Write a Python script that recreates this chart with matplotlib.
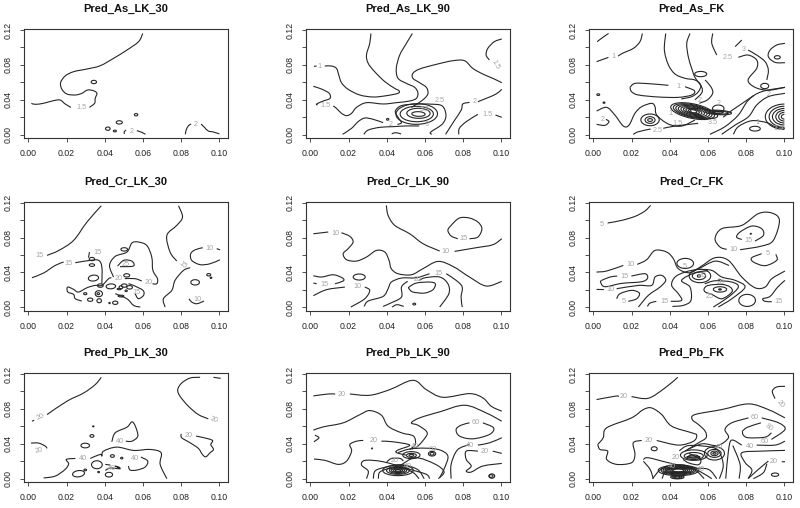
import matplotlib
matplotlib.use("Agg")
import matplotlib.pyplot as plt
import numpy as np
from matplotlib.patches import Arc, PathPatch
from matplotlib.path import Path

plt.rcParams['font.family'] = ['Liberation Sans', 'DejaVu Sans']

# all contour values below are (x, y) in thousandths of the axis units
as_lk30_lines = [
    [(59.9,116),(57.7,106.6),(51.6,97),(44.6,87.5),(37.6,79),(30.7,75.3),(23.7,72.2),(19.3,67.3),(16.9,59.6),(17.6,52),(20.2,46.6),(24.6,45.5),(28,47.4),(31,51.2),(34.1,50.4),(35.9,47.4),(35,41.6),(34.7,36),(32,31.3)],
    [(22.3,31.3),(19.3,35.2),(16.7,39.7),(13.2,39),(8,36),(3.7,34.8),(1.6,35.9)],
    [(50.3,0.8),(50.2,3.4),(51.2,5.3)],
    [(56.8,4.6),(59.4,2.7),(61.3,0.4)],
    [(82.2,0.4),(82.6,5.3),(83.8,10.3),(85.2,12.2)],
    [(90.4,12.2),(92.2,8.4),(94.2,4.2),(96.9,3.1),(100,0.8)],
]
as_lk30_rings = [(34.3,60.4,2.8,3.8,0),(56.4,22.9,1.8,2.7,0),(47.6,14.1,3.2,3.8,0),(41.6,6.9,2.4,3.8,0),(45.3,4.2,1.6,2,0)]
as_lk30_labels = [(27.7,31.3,"1.5",0),(54,4.2,"2",0),(87.8,11.5,"2",0)]

as_lk90_lines = [
    [(31.7,116),(31.1,104.7),(29.4,91.3),(30.3,81.8),(33.7,72.2),(39,60.8),(44.2,53.1),(46.4,50.4),(45.9,47.4),(39.8,44.7),(32.9,43.2),(25.9,45.5),(19.8,52),(16.3,59.6),(14.9,68.4),(13.7,76),(11.1,78.7),(7.6,78.7)],
    [(3.3,78.7),(1.9,78.3)],
    [(53.4,116),(50.3,104.7),(46.8,91.3),(45,76),(45.9,64.6),(50.3,58.8),(54.6,54.3),(56.3,48.1),(55.5,41.6),(52,38.6),(45,36.7),(38.1,35.2),(29.4,36.7),(24.2,31.3),(21.6,24.5),(19,21.8),(16.3,24.5),(13.7,30.2),(12,32.9)],
    [(3.8,34),(3.3,35.2),(6.8,38.6),(10.3,41.6),(9.9,47.4),(5.9,52.3),(1.6,55.4)],
    [(100.2,59.6),(95.5,64.6),(90.3,69.5),(85,76),(80.7,84.8),(74.6,84.8),(65.9,80.6),(57.2,75.3),(53.7,70.3),(53.7,64.6),(57.2,59.6),(60.7,54.3),(61.6,47.4),(59.8,41.6),(56.3,35.9),(52.9,31.3)],
    [(100.2,109.7),(96.3,106.6),(92.9,99),(92,91.3),(93.7,85.6)],
    [(100.2,52),(97.2,46.6),(92,41.6),(87.7,37.8)],
    [(83.3,37),(79.8,35.2),(79,28.3),(75.5,16.5),(70.8,0.4)],
    [(77.7,0.4),(78,7.3),(81.6,14.9),(87.7,23.3)],
    [(96.9,22.5),(100.2,19.9)],
    [(16.9,0.4),(21.6,7.3),(25,14.9),(28.5,19.1),(32.9,17.6),(38.1,13.8)],
    [(45.6,11.8),(47.7,13.8),(45.9,20),(44.5,27),(47.7,33.3),(55,35),(63,35),(69,33),(71,22),(69,12),(63,3),(63.6,0.4)],
    [(28,0.4),(30.3,5.3),(36.3,8.4),(43.3,9.2),(50,10),(57,10)],
    [(42.6,1),(44.7,2.3),(47.5,0.8)],
]
as_lk90_rings = [(56.6,23.7,7,5.3,-10),(56.6,24.5,12.2,11.5,-10),(55.7,23.7,17.4,17.6,-8),(55.7,23.7,21.7,23.7,-8),(40.5,17.6,1.2,2,0)]
as_lk90_labels = [(5,78.3,"1",0),(96.9,79.9,"1.5",-60),(7.7,32.9,"1.5",0),(85.9,37.8,"2",0),(92.9,23.3,"1.5",0),(42.1,11.8,"2",0),(67.7,39.7,"2.5",0),(60,29,"3.5",0),(60.7,11.8,"3",0)]

as_fk_lines = [
    [(2,106.6),(5,111.6),(8,116)],
    [(1.7,83.7),(7.9,88.6)],
    [(13,90),(15.2,93.2),(21,99),(24.4,106.6),(25.7,116)],
    [(37.9,116),(37.2,97),(39.3,80),(42.8,69.5),(48,64.6),(53.2,62.7),(56.2,57),(55,49.3),(51.5,43.6),(46,41)],
    [(19.2,54.3),(21.8,58.8),(28.8,58.5),(39.3,56.6)],
    [(48,55),(52.9,50.4),(51.5,45.5),(44.5,42.8),(34,43.2),(23.6,45.5),(20,49.3),(19.2,54.3)],
    [(50.6,116),(48.9,104.7),(49.7,89.4),(51.5,76),(53.2,65.7),(56.7,54.6),(56.7,47.7),(53.2,40)],
    [(58.5,62.7),(61.5,55),(62.5,47.7),(59.8,40),(55.5,36)],
    [(62.5,116),(62,104.7),(64.6,91.3)],
    [(75.9,88.7),(81,91.3),(85.5,85.6),(85.5,76),(81,62.7),(84.6,54.3),(91.6,51),(100.3,54.3)],
    [(100.3,104.7),(96,102.8),(92.5,97),(91.6,89.4),(95.1,82.9),(100.3,82.5)],
    [(74.2,100.9),(77.7,108.5)],
    [(81,97),(85.5,91.3),(89.9,83.7),(91.6,74),(90.8,62.7)],
    [(1.7,27.1),(7,31.3),(11.3,22.5),(15.7,9.9),(18.7,11),(21.8,24.5),(25.3,32.1),(30.5,35.9),(32.3,32.1),(33.2,22.5),(39.3,12.2),(46.2,9.9),(53.2,16.8)],
    [(6.6,17.6),(8.2,14.9),(6.1,10.7),(1.7,11.8)],
    [(20.9,0.4),(23.6,3.4),(30,6.5)],
    [(36.6,7.3),(42.8,9.9),(54.9,13)],
    [(61,0.4),(68.9,9.2),(75.9,22.5),(81.2,39.7),(88.1,49.3),(100.3,54.3)],
    [(67.2,0.4),(74.2,11),(81.2,20.6),(85.5,34),(91.6,43.6),(100.3,47.4)],
    [(73.3,0.4),(75.9,9.2),(82.9,16),(90.8,13.8),(95.1,9.2),(100.3,7.3)],
    [(68,20),(72,27),(76,33),(82,42),(84,45)],
]
as_fk_rings = [
    (52,27,26,15,-35),(52,27,23,13,-35),(52,27,20,11.5,-35),(52,27,17,10,-35),(52,27,14,8,-35),(52,27,11,6,-35),(52,27,8,4.5,-35),(52,27,5,3,-35),
    (58,24.5,16,9,-35),(65.4,25.5,14,5,-8),(65.4,25.5,10,3.5,-8),(65,25.5,6,2.2,0),(65.4,30,6,8,0),
    (29.7,16.8,5.2,7.6,0),(29.7,16.8,2.5,3.2,0),(29.7,17,9.6,13.4,0),
    (89.7,55.8,4.2,6.1,0),(84.6,6.9,5.6,5.4,0),(96.3,88.7,3.1,3.8,0),(56.2,69.5,6.3,6,0),(2.6,45.9,1.5,2,0),(5.6,36.7,1,1.5,0),
]
as_fk_arcs = [(100,20.6,20,29),(100,20.6,16,24),(100,20.6,12.5,19),(100,20.6,9,14.5),(100,20.6,6,10),(100,20.6,3.2,5.5)]
as_fk_labels = [(10.8,89.4,"1",0),(44.5,55.8,"1",0),(78.5,97.8,"3",0),(70.3,88.7,"2.5",0),(92,45.5,"2",0),(4.9,17.6,"2",0),(33.7,5.3,"2.5",0),(44.2,13,"1.5",0),(40.5,24.5,"1",0),(55.8,39,"2",0),(65.4,35.2,"2",0),(62.5,13.8,"3.5",0),(85.7,14.1,"1",0),(96.9,7.3,"1.5",0)]

cr_lk30_lines = [
    [(1.9,34),(8,39.4),(14.1,48.1),(18.5,52)],
    [(24.6,51.2),(32.4,53.9),(36.8,53.9),(38.5,46.2),(38.5,27.1)],
    [(9.8,59.6),(16,65.3),(23.7,76.8),(30.7,97.8),(38.2,116.5)],
    [(31.5,57),(32,63.4)],
    [(44.6,34.8),(42.5,48.1),(45.5,58.5),(51.6,63.4),(54.2,73.8),(57.6,74.9),(62,71),(64.6,57.7),(65.2,42.4),(67.6,32.9),(67.2,27.1),(65,27.1)],
    [(59.4,30.2),(55.9,32.9),(50.5,33)],
    [(46.7,47.4),(50,54),(54.2,53),(55,47.4),(48,46.7)],
    [(20.2,22.5),(21.1,23.3),(23.7,20.6),(26.3,17.6),(30.7,22.5),(35,25.2),(38.5,25.2),(42,32.9),(43.5,34)],
    [(20.2,22.5),(20.7,17.6),(23.7,14.9),(24.6,9.9),(28,7.3)],
    [(52.4,27.1),(55,25.2),(60,19.5),(60.3,13.8),(57.6,10),(55.9,15.7)],
    [(45.5,15.7),(51.6,9.9),(55.1,2.3),(58.6,0.4)],
    [(71.6,0.4),(70.7,9.9),(75.1,19.5),(76.8,31),(81.2,42.4),(84.7,45.5)],
    [(77.7,53.1),(74.2,63.4),(72.5,82.5),(77.7,94),(80.7,103.6),(78.6,116.5)],
    [(100.3,54.6),(95.1,50),(89.9,49),(85.5,53.9),(85,61.5),(87.3,66),(91.3,68.4)],
    [(98.6,67.3),(100.3,66)],
    [(84.1,9.9),(85.5,6.1),(88.2,4.2),(92,7.3)],
]
cr_lk30_rings = [
    (33.3,55.4,2.8,3.8,0),(33.3,48.5,2.8,3,0),(50.2,66.5,3.5,3.8,0),(51.5,36.7,3.1,3.8,0),(87.3,28.7,4.5,6.1,0),(94.4,37.4,2.1,2.7,0),(95.6,34,0.9,1.5,0),
    (29.8,15.7,1.7,2.3,0),(36.9,15.7,3.8,6.9,0),(36.6,15.7,1.4,2.3,0),(32.4,8.8,2.8,3.8,0),(37.1,7.6,2.4,4.6,0),(45.5,5.3,2.8,3.8,0),(42.5,5,0.7,1.5,0),
    (34.1,33.6,5.2,6.9,-15),(43.2,24.1,4.9,5.7,-15),(37.7,25,3,4,0),(47.5,21,2,1.6,0),(48.5,13,3,2,0),(50.2,25,3,3.8,0),(48.5,23,2,3.5,0),(53,23,3,4,0),(51.2,19,1.2,1.8,0),
]
cr_lk30_labels = [(5.9,59.2,"15",0),(21,50.8,"15",0),(36.2,63.4,"15",0),(47.2,32.9,"20",0),(50.7,49.7,"25",0),(63,28,"20",0),(56.4,17,"15",0),(80.8,48.5,"15",-35),(94.8,67.7,"10",0),(88.5,8.8,"10",0)]

cr_lk90_lines = [
    [(1.6,84.4),(9.4,86.4)],
    [(16.3,85.6),(20.7,81.4),(22.4,74.9),(19.8,67.3),(17.2,61.5),(19,54.6),(24.2,53.1),(29.4,57.7),(34.6,65.3),(39,63.4),(41.2,53.9),(42.4,44.3),(45.9,38.6),(52.9,37.4),(58.9,44.3),(66.8,52.7),(74.6,47),(83.3,34.8),(92,24.5),(100.2,29.8)],
    [(39.8,116.9),(40.7,105.5),(44.2,94),(52,84.4),(59,73),(67.7,64.6)],
    [(75.5,64.2),(86.8,68.4),(95.5,71.8),(100.2,78.7)],
    [(83.3,78.7),(87.7,80.6),(89.8,90.2),(87.7,97.8),(83.3,102.4),(78,102.4),(73.7,94),(72,88.3),(73.7,81.8),(77.2,78.7)],
    [(1.6,36.3),(5.9,34.8),(12,37.4),(16.9,33.6),(17.2,30.2),(12.9,27.1)],
    [(3.3,27.1),(1.6,27.9)],
    [(1.6,13.4),(8.5,20.3),(18.1,23.3)],
    [(28.5,23.3),(31.1,19.5),(28.5,9.9),(21.2,0.4)],
    [(28.2,1.1),(30.3,7.3),(38.1,12.6),(40.7,21.4),(42.4,29),(47.7,33.6),(55.5,34),(62.4,38.6)],
    [(71.1,38.6),(76.3,31),(79.5,23.3),(78.9,11.8),(79.5,0.4)],
    [(38.1,1.1),(42.4,5.3),(47.7,11.8),(47.7,23.3),(50.3,29),(51,29.5)],
    [(57,31),(60.2,34),(67.7,34.8),(72,27.1),(72.5,15.7),(67.7,0.4)],
    [(51.7,23.3),(55.5,27.9),(62.4,29),(65.4,27.1),(64.2,20.3),(59.8,16.4),(53.7,17.6),(51.7,21.4),(51.7,23.3)],
    [(42.8,0.4),(45.4,3.1),(48.9,1.1)],
]
cr_lk90_rings = [(25.6,34.8,6.3,6.9,0),(54.4,3.8,1.5,2,0)]
cr_lk90_labels = [(13.2,85.2,"10",0),(24.5,23.7,"10",0),(70.8,64.2,"10",0),(80.3,78.7,"15",0),(7.3,26.4,"15",0),(67.1,39.4,"15",0),(56,32,"20",0)]

cr_fk_lines = [
    [(7.5,96.7),(14.8,99.7),(21.8,104.3),(27,110.4),(30,116.9)],
    [(1.7,40.5),(7,41.7),(15.7,48.1)],
    [(23,49.3),(27.9,54.6),(32.3,65.3),(38.4,63.4),(41.9,55.8),(44.5,44.3),(50.6,39.7),(56.7,47.4),(63.7,56.9),(70.7,53.9),(77.7,34.8),(84.6,22.5),(89.9,23.3),(93.4,32.9),(100.3,41.7)],
    [(76.8,66.1),(88.1,70.3),(94.2,76.8),(97.4,99.7),(93.4,108.2),(86.4,107.5),(77.7,94),(67.2,90.2),(63.7,78.7),(66.3,69.2),(69.8,66.5)],
    [(84.6,76),(89,82.5),(88.1,90.2),(82.9,93.2),(76.8,86.4),(75,80.6),(77.7,77.8)],
    [(88.1,61.5),(82.9,56.9),(83.8,52),(89.9,47.8),(96,54),(95.5,60.8)],
    [(4.4,31),(8.7,34.8),(12.5,35.9)],
    [(19.9,35.9),(27,38.6),(28.4,33.6),(25.3,29.4),(14.8,27.5),(6.1,23.7),(3.8,29),(4.4,31)],
    [(1.7,20.6),(5.5,20.4)],
    [(12.2,21.4),(23.6,25.2),(30.5,25.2),(32.3,34.8),(35.8,36.7),(37.9,31),(34.9,23.3),(28.8,13.8),(23.6,0.4)],
    [(12.2,9.9),(14,15.7),(20,19.5),(24.1,16.4),(22.7,9.9),(18.3,6.9)],
    [(28.3,1.1),(29.7,5),(33,6.9)],
    [(40.5,6.9),(46.2,8),(44.5,15.7),(41,25.2),(42.8,34.8),(48,40.5),(54.9,44.3),(63.7,53),(71,48)],
    [(41.4,1.1),(47.1,2.3),(51.1,8),(50.6,23.3),(46.2,31),(53.2,39.7),(60,42)],
    [(62.8,0.4),(70.7,11.8),(75.9,23.3),(72.5,29),(63.7,30.5),(58.3,27)],
    [(65.4,0.4),(72.5,9.9),(79.4,23.3),(74.2,31),(67.2,34.8),(62,42.4),(54.9,43.6)],
    [(58,21.4),(60.2,25.2),(67.2,26.4),(71.6,23.3),(72.5,17.6),(67.2,9.9),(62,14.9),(58.6,17.6),(58,21.4)],
    [(100.3,31),(96.5,23.3),(92.5,12.6),(88.7,9.9),(89.9,6.9),(93.4,6.5)],
]
cr_fk_rings = [(48.1,50.4,8.7,11.5,0),(55.3,36,7,8.4,0),(55.3,36,1.7,2.7,0),(55.8,36,11.3,15.3,0),(66.3,20.6,1.4,1.5,0),(66.3,20.6,7,6.1,0),(80.5,8,8.7,13.8,0),(82.4,84.4,0.6,1,0),(66,31.7,1,1,0)]
cr_fk_labels = [(4.4,95.2,"5",0),(19.5,48.9,"10",0),(73.3,66.1,"10",0),(81.2,76.4,"15",0),(91.1,61.5,"5",0),(16.1,35.9,"15",0),(9.1,20.2,"10",0),(15.9,7.3,"5",0),(37,6.9,"15",0),(48,47,"5",0),(57.5,37,"20",0),(66.5,28,"20",0),(61,12,"25",0),(96.9,7,"15",0)]

pb_lk30_lines = [
    [(1.9,65.9),(3.1,67)],
    [(9.8,73.5),(20.2,88.8),(29,98.3),(35,107.8),(38.2,116.2)],
    [(89.9,116.2),(84.7,115.4),(80.3,109.7),(78.2,102.1),(79.4,94.5),(83.8,83),(89,73.5),(94.2,68.6)],
    [(96.9,116.2),(100.7,115)],
    [(1.4,40.8),(5.4,40.8),(8.9,37.3),(9.8,34.7)],
    [(80,51.4),(80.3,46.9),(84.7,41.1),(89,34.7),(91.1,27.8),(92.9,25.1),(95.1,29.7),(96.9,33.5),(95.5,39.2),(96.4,43.8),(92,46.9),(87.8,48.8)],
    [(43.7,42.3),(45.5,52.6),(51.6,59),(54.2,65.1),(56,60.2),(57.3,48.8),(54.2,43),(51,43)],
    [(8,0.8),(14.1,3),(19.3,10.7),(21.1,17.1),(19.9,22.1),(24.6,23.2)],
    [(32.4,23.2),(37.6,27.8),(38.5,25.9),(39.4,31.6),(46.3,36.2),(55.1,32.4),(63.8,33.5),(69.5,29.7),(69,16.4),(72.5,0)],
    [(58.9,24.8),(62.5,20.2),(61.1,13.3),(56.8,9.9),(53.3,9.9),(52.4,14.5)],
    [(40.3,16.4),(42.9,15.6)],
    [(40.3,9.5),(42.9,12.2),(48.1,11.4),(45.5,14.5),(48.1,12.6)],
]
pb_lk30_rings = [(34.0,60,0.7,1.1,0),(33.3,49,2.1,3,0),(29.8,38,4.5,5.3,0),(35.9,16,5.6,9.1,0),(26.3,5.7,5.9,7.6,-25),(29.8,10,1.4,1.9,0),(36.8,7.6,0.9,1.5,0),(42.2,4.6,3.8,5.3,0),(44,26,2.1,3,0),(48.9,23.6,1.2,1.9,0)]
pb_lk30_labels = [(6.3,70.5,"20",25),(96.9,67,"20",-20),(5.7,32.8,"20",15),(84.1,49.9,"20",0),(48.1,43,"40",0),(28.4,23.2,"40",0),(55.6,23.6,"40",0),(44,12,"40",0)]

pb_lk90_lines = [
    [(1.6,94.9),(9.4,97.1),(13,97)],
    [(20.7,97.1),(31.1,95.6),(41.6,102.1),(53.7,112.8),(60.7,102.1),(69.4,93.3),(83.3,97.5),(90.3,92.6),(94.7,83),(100.2,77.3)],
    [(1.6,55.6),(6.8,59.4),(17.2,64),(26,73.5),(31.1,78.1),(37.2,72.8),(40.7,60.2),(47.7,52.6),(54,48.8),(54.9,39.2),(52,33.5)],
    [(100.2,65.9),(92,75.4),(80.7,84.2),(67.7,76.6),(57.2,69.7),(52.9,64),(56.3,61.3),(60.7,54.5),(60.7,48.8),(56.3,37.3),(53,34)],
    [(90.3,64),(95.9,58.3),(93.8,50.7),(85,45.7),(78.1,48.8),(76.3,56.4),(78.9,61.3),(83.3,64)],
    [(1.9,42.3),(4.5,46.9),(2.4,49.9)],
    [(1.9,22.5),(7.7,21),(14.6,16.4),(19,20.2),(21.6,31.6),(20.7,39.2),(24.2,43),(27.7,43.8)],
    [(37.2,43),(43.3,42.3),(52,38.5),(46,33),(45,30),(50,27)],
    [(67.7,1.1),(70.3,12.6),(72,25.9),(67.7,33),(60,35),(52,34),(46,30)],
    [(73.7,0),(73.7,16.4),(77,33),(83.3,39.2)],
    [(87.7,38.5),(93.8,41.1),(100.2,46.9)],
    [(87.7,31.6),(81.6,31.6),(81.6,22.1),(84.2,14.5),(81.6,8.8),(84.2,7.6),(90.3,14.5),(100.2,17.5)],
    [(95.5,31.6),(100.2,29)],
    [(29.4,0),(30.3,8.8),(26.8,15.6),(28.7,21),(38.1,19.4),(52,10.7),(60.7,5),(62.4,0)],
    [(33,0),(33.9,8.8),(39,13),(47.5,16),(56,10.7),(59.6,0)],
    [(35.6,0),(36.4,7.6),(41.6,11.8),(47.8,12.6),(53.9,6.9),(56.9,0)],
    [(40,19.4),(42.6,23.2),(47,23.2),(48.7,20.2)],
    [(47,15),(55,24),(65,17),(70,8),(67,0)],
]
pb_lk90_rings = [(52.9,26.7,5.2,4.6,0),(52.9,26.7,2.4,2.3,0),(52.9,27,9,8,0),(63.7,28.6,3.8,5.3,0),(63.7,28.6,2.1,3,0),(94.6,3,2.1,3,0),(95,3,3,5,0),(32.3,34.7,0.5,1,0),
    (45.9,9.5,16,12,0),(45.9,9.5,12,9,0),(45.9,9.5,9,7,0),(45.9,9.5,7,5,0),(45.9,9.5,5,3.5,0),(45.9,9.5,3,2,0)]
pb_lk90_labels = [(16.3,96.8,"20",0),(33,44.2,"20",0),(86.8,64,"60",0),(83.3,38.5,"40",0),(91.5,31.6,"20",0),(44,20.9,"20",0),(50.9,14.5,"40",0),(64.2,33.1,"60",0),(54.5,36.5,"40",0)]

pb_fk_lines = [
    [(1.7,90.7),(11.3,94.5),(13.5,94.5)],
    [(20,94.1),(28.8,92.2),(37.5,104),(44.2,116.2)],
    [(100.3,105.9),(95.9,105.1),(93.7,100.2),(95.1,91.8)],
    [(2.3,39.2),(5.2,46.9),(7,58.3),(20,69.7),(26.2,79.2),(30.5,81.1),(35.8,73.5),(41,60.2),(51.5,52.6),(54.1,49.9),(52.4,42.9),(44.5,38.5),(33.2,43.8)],
    [(25.3,43.8),(20.9,41.1),(21.8,27.8),(20,18.3),(12.2,16.4),(7,22.1),(7.5,31.6),(3.5,33.5),(2.3,39.2)],
    [(100.3,69.7),(91.6,79.2),(81.2,85.7),(67.2,79.2),(53.2,73.5),(51.8,67.8),(55,62.1),(58.5,54.5),(59,46.9),(55,41.1),(48,31.6)],
    [(81.2,69.7),(72.4,64),(68.9,56.4),(70.7,46.9),(65,38),(57,40),(49,33)],
    [(88.1,69.7),(97,64),(100.3,56.4),(93.2,45)],
    [(78,54.5),(80.7,59),(87.7,64)],
    [(93.2,52.6),(89.9,47.6),(81.2,46.9),(78.5,50),(78,54.5)],
    [(100.3,43),(95.1,38.5),(85.5,38.5)],
    [(77.7,38.5),(72.4,44.2),(70.7,31.6),(69.3,0)],
    [(100.3,32.4),(88.1,31.6),(77.7,29.7),(79.5,18.3),(83,10),(81,0)],
    [(76.3,0),(76.8,16.4),(73,38)],
    [(81.2,0.4),(86.4,10.7),(91.6,20.2)],
    [(98.6,19.4),(100.3,19.4)],
    [(83.8,0),(89,6.9),(90.8,17.1)],
    [(26.2,22),(28.8,24),(39.3,18.3),(51.5,12.6),(60.2,10.7),(64.6,0)],
    [(26.2,20),(29.7,10.7),(31.4,0)],
    [(31,0),(34.9,10),(40,15),(48,15.5),(56,8),(62,0)],
    [(36,0),(38,9),(44,14),(53,10),(58,0)],
    [(47,22),(50,18),(55,16),(56,22),(50,29)],
    [(45,32),(50,38),(62,36),(66,30),(68,15),(66,0)],
]
pb_fk_rings = [(95.1,4.6,3.8,3.8,0),(31.9,34.3,3.1,4.6,0),(63.4,29,1.7,1.9,0),(63.4,29,3.8,5.3,0),(63.4,29,7,9.1,0),(63.4,29,10.5,15.2,0),
    (52.4,24.8,7,2.2,0),(52.4,25.5,5,3.5,0),(52.6,26,10,8,0),(52.6,27,14,12,0),
    (44.5,9.5,16,8,0),(44.5,9.5,14,7,0),(44.5,9.5,12,6,0),(44.5,9.5,10,5,0),(44.5,9.5,8,4,0),(44.5,9.5,6,3,0),(44.5,9.5,18,10,0),(44.5,9.5,21,12,0),
    (44,1.8,5,3,0),(44,1.8,3,2,0),(44,1.8,7,4,0)]
pb_fk_labels = [(16.1,94.5,"20",0),(97.7,85.7,"20",-50),(29,43.8,"20",0),(84.6,69.7,"60",0),(91.6,59,"80",-40),(89.9,43,"60",0),(82,37.3,"40",0),(94.4,20.2,"20",0),(43,24.5,"20",0),(56.5,10.7,"40",0),(65.5,36,"40",0),(41,14,"40",0)]

panel_titles = ["Pred_As_LK_30","Pred_As_LK_90","Pred_As_FK","Pred_Cr_LK_30","Pred_Cr_LK_90","Pred_Cr_FK","Pred_Pb_LK_30","Pred_Pb_LK_90","Pred_Pb_FK"]
panel_lines = [as_lk30_lines,as_lk90_lines,as_fk_lines,cr_lk30_lines,cr_lk90_lines,cr_fk_lines,pb_lk30_lines,pb_lk90_lines,pb_fk_lines]
panel_rings = [as_lk30_rings,as_lk90_rings,as_fk_rings,cr_lk30_rings,cr_lk90_rings,cr_fk_rings,pb_lk30_rings,pb_lk90_rings,pb_fk_rings]
panel_labels = [as_lk30_labels,as_lk90_labels,as_fk_labels,cr_lk30_labels,cr_lk90_labels,cr_fk_labels,pb_lk30_labels,pb_lk90_labels,pb_fk_labels]

x_ticks = [0.0,0.02,0.04,0.06,0.08,0.10]
y_ticks = [0.0,0.02,0.04,0.06,0.08,0.10,0.12]
y_ticklabels = ["0.00","","0.04","","0.08","","0.12"]

W, H = 800, 508
col_left = [24, 306, 589]
row_top = [29.3, 202, 373.3]
box_w, box_h = 204, 108.7
line_col = "#262626"


def curve_path(line):
    # bezier through the read points, so the contours are not angular
    p = np.array(line) / 1000
    closed = len(p) > 3 and np.allclose(p[0], p[-1])
    if closed:
        q = np.vstack([p[-2], p, p[1]])
    else:
        q = np.vstack([p[0], p, p[-1]])
    verts = [q[1]]
    codes = [Path.MOVETO]
    for k in range(1, len(q) - 2):
        verts += [q[k] + (q[k + 1] - q[k - 1]) / 6, q[k + 1] - (q[k + 2] - q[k]) / 6, q[k + 1]]
        codes += [Path.CURVE4] * 3
    return Path(verts, codes)


fig = plt.figure(figsize=(8, 5.08), dpi=100)
for i in range(9):
    left = col_left[i % 3]
    top = row_top[i // 3]
    ax = fig.add_axes([left / W, 1 - (top + box_h) / H, box_w / W, box_h / H])
    for line in panel_lines[i]:
        ax.add_patch(PathPatch(curve_path(line), fill=False, ec=line_col, lw=0.8))
    for cx, cy, w, h, ang in panel_rings[i]:
        ax.add_patch(Arc((cx / 1000, cy / 1000), w / 1000, h / 1000, angle=ang, color=line_col, lw=0.8))
    if i == 2:
        for cx, cy, w, h in as_fk_arcs:
            ax.add_patch(Arc((cx / 1000, cy / 1000), w / 1000, h / 1000, theta1=90, theta2=270, color=line_col, lw=0.8))
    for x, y, s, rot in panel_labels[i]:
        ax.text(x / 1000, y / 1000, s, fontsize=5.2, color="#a6a6a6", ha='center', va='center', rotation=rot)
    ax.set_xlim(-0.00225, 0.1045)
    ax.set_ylim(-0.0038, 0.1208)
    ax.set_xticks(x_ticks)
    ax.set_xticklabels(["%.2f" % v for v in x_ticks])
    ax.set_yticks(y_ticks)
    ax.set_yticklabels(y_ticklabels, rotation=90, va='center')
    ax.tick_params(length=2.6, width=0.6, labelsize=6.3, pad=5.5, color="#333333", labelcolor="#222222")
    for sp in ax.spines.values():
        sp.set_linewidth(0.8)
        sp.set_color("#333333")
    ax.set_title(panel_titles[i], fontsize=8, fontweight='bold', pad=12.3, color="#111111")

plt.savefig("out.png", dpi=100)
